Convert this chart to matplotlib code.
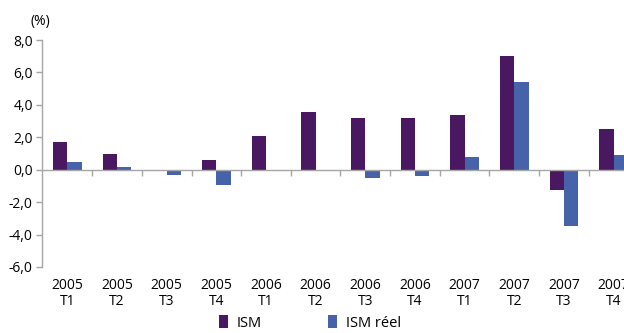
import matplotlib
matplotlib.use("Agg")
import matplotlib.pyplot as plt
import numpy as np

plt.rcParams['font.family'] = ['Open Sans', 'DejaVu Sans']

years = ["2005", "2005", "2005", "2005", "2006", "2006", "2006", "2006",
         "2007", "2007", "2007", "2007"]
quarters = ["T1", "T2", "T3", "T4", "T1", "T2", "T3", "T4",
            "T1", "T2", "T3", "T4"]
ism = [1.68, 0.94, 0.0, 0.57, 2.05, 3.59, 3.16, 3.22, 3.4, 7.0, -1.25, 2.54]
ism_reel = [0.45, 0.14, -0.35, -0.95, 0.0, -0.08, -0.54, -0.4, 0.76, 5.43, -3.47, 0.88]

purple = '#4a1861'
blue = '#4662a9'
grey = '#a6a6a6'

fig = plt.figure(figsize=(6.24, 3.33), dpi=100)
W, H = 624, 333
# axes run past the right edge, so the last quarter is cut off
ax = fig.add_axes([42.5 / W, 1 - 267 / H, 596 / W, 227 / H])

x = np.arange(len(years))
bw = 0.29
ax.bar(x - bw / 2, ism, bw, color=purple, label='ISM', zorder=2)
ax.bar(x + bw / 2, ism_reel, bw, color=blue, label='ISM réel', zorder=2)

ax.set_xlim(-0.5, len(years) - 0.5)
ax.set_ylim(-6, 8)

# y axis
ax.set_yticks(np.arange(-6, 9, 2))
ax.set_yticklabels([f"{v:.1f}".replace('.', ',') for v in np.arange(-6, 9, 2)])
ax.tick_params(axis='y', length=4, width=1, color=grey, pad=3, labelsize=10)
ax.spines['left'].set_color(grey)
ax.spines['left'].set_linewidth(1)
for s in ['top', 'right']:
    ax.spines[s].set_visible(False)

# zero line with ticks between quarters
ax.spines['bottom'].set_position(('data', 0))
ax.spines['bottom'].set_color(grey)
ax.spines['bottom'].set_linewidth(1)
ax.set_xticks(x + 0.5)
ax.set_xticklabels([])
ax.tick_params(axis='x', length=4, width=1, color=grey, direction='out')

# quarter labels under the plot
sec = ax.secondary_xaxis('bottom')
sec.set_xticks(x)
sec.set_xticklabels([f"{y}\n{q}" for y, q in zip(years, quarters)],
                    fontsize=10, linespacing=1.1)
sec.tick_params(length=0, pad=8)
sec.spines['bottom'].set_visible(False)

fig.text(40 / W, 1 - 22 / H, "(%)", ha='center', va='center', fontsize=10)

fig.legend(loc='center', bbox_to_anchor=(310 / W, 1 - 323 / H), ncol=2,
           frameon=False, fontsize=10.5, handlelength=0.65, handleheight=0.9,
           handletextpad=0.6, columnspacing=4.5, borderpad=0)

fig.savefig('out.png', dpi=100)
